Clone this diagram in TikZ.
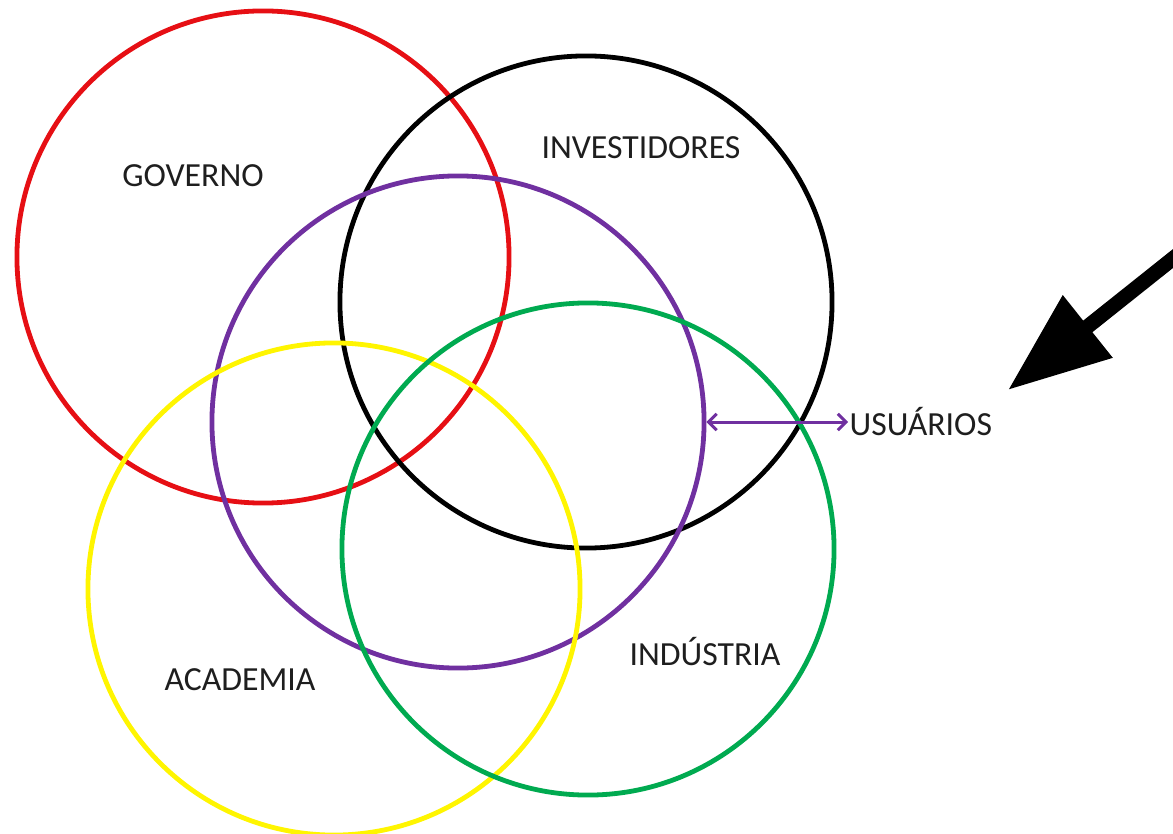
\documentclass[tikz,border=0pt]{standalone}
\usepackage{fontspec}
\setmainfont{Carlito}
\usetikzlibrary{arrows.meta, positioning}
\definecolor{govred}{RGB}{230, 15, 20}
\definecolor{invblack}{RGB}{0, 0, 0}
\definecolor{usrpurple}{RGB}{112, 48, 160}
\definecolor{acadyellow}{RGB}{255, 245, 0}
\definecolor{indgreen}{RGB}{0, 170, 80}
\definecolor{ink}{RGB}{30, 30, 30}

\begin{document}
\begin{tikzpicture}[x=0.025cm, y=-0.025cm,
        ring/.style={circle, draw, line width=0.12cm, minimum size=12.3cm, inner sep=0pt},
        tag/.style={font=\fontsize{24}{28}\selectfont, text=ink, inner sep=1pt}
    ]
    \useasboundingbox (0,0) rectangle (1173,834);
    \clip (0,0) rectangle (1173,834);

    % the five actors
    \node[ring, draw=govred] (gov) at (263,257) {};
    \node[ring, draw=invblack] (inv) at (586,302) {};
    \node[ring, draw=usrpurple] (usr) at (458,422) {};
    \node[ring, draw=acadyellow] (acad) at (334,589) {};
    \node[ring, draw=indgreen] (ind) at (588,549) {};

    \node[tag] (govtext) at (193,176) {GOVERNO};
    \node[tag] (invtext) at (641,148) {INVESTIDORES};
    \node[tag] (acadtext) at (240,680) {ACADEMIA};
    \node[tag] (indtext) at (705,652) {INDÚSTRIA};
    \node[tag, anchor=west] (usrtext) at (848,422) {USUÁRIOS};

    \draw[usrpurple, line width=0.075cm, {Straight Barb}-{Straight Barb}] (usr.east) -- (usrtext.west);

    % pointer
    \coordinate (pointer) at (1200,237);
    \coordinate (pointertip) at (1008,390);
    \draw[line width=0.37cm, -{Triangle[length=2.55cm, width=1.9cm]}] (pointer) -- (pointertip);
\end{tikzpicture}
\end{document}
